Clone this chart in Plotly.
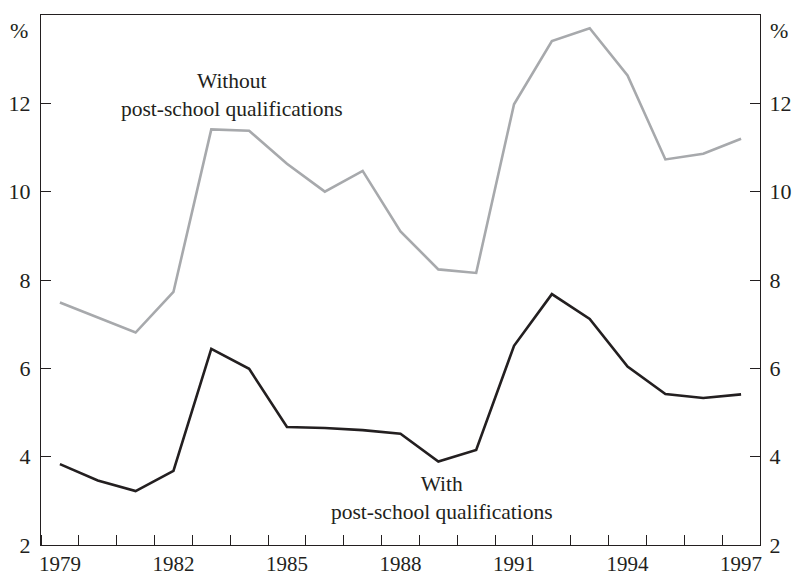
import plotly.graph_objects as go

years = list(range(1979, 1998))
without_quals = [7.49, 7.15, 6.81, 7.73, 11.41, 11.38, 10.63, 10.0, 10.47, 9.10,
                 8.24, 8.16, 11.98, 13.41, 13.70, 12.63, 10.73, 10.86, 11.20]
with_quals = [3.83, 3.46, 3.22, 3.68, 6.44, 5.99, 4.67, 4.65, 4.60, 4.52,
              3.89, 4.15, 6.51, 7.68, 7.12, 6.04, 5.42, 5.33, 5.41]
x_label_years = [1979, 1982, 1985, 1988, 1991, 1994, 1997]
x_labels = [str(y) for y in x_label_years]
y_ticks = [2, 4, 6, 8, 10, 12]
y_labels = [str(v) for v in y_ticks]
band_edges = [y - 0.5 for y in years] + [years[-1] + 0.5]

FONT = "Liberation Serif, Times New Roman, serif"
INK = "#231f20"
GREY = "#a7a9ac"
TICK_SIZE = 22
XTICK_SIZE = 21
NOTE_SIZE = 21.5

fig = go.Figure()
fig.add_trace(go.Scatter(x=years, y=without_quals, mode="lines",
                         line=dict(color=GREY, width=2.6), showlegend=False))
fig.add_trace(go.Scatter(x=years, y=with_quals, mode="lines",
                         line=dict(color=INK, width=2.6), showlegend=False))
# invisible trace to activate right axis
fig.add_trace(go.Scatter(x=years, y=with_quals, yaxis="y2", mode="lines",
                         line=dict(width=0), opacity=0, showlegend=False, hoverinfo="skip"))

fig.update_layout(
    width=793, height=576,
    margin=dict(l=41, r=33, t=15, b=31, autoexpand=False),
    paper_bgcolor="white", plot_bgcolor="white",
    font=dict(family=FONT, size=TICK_SIZE, color=INK),
    xaxis=dict(range=[1978.5, 1997.5], tickmode="array", tickvals=x_label_years,
               ticktext=x_labels, ticks="", showgrid=False, zeroline=False,
               showline=True, linecolor=INK, linewidth=1.3, mirror=True,
               automargin=False, ticklabelstandoff=0,
               tickfont=dict(family=FONT, size=XTICK_SIZE, color=INK),
               minor=dict(tickmode="array", tickvals=band_edges, ticks="inside",
                          ticklen=10, tickwidth=1.3, tickcolor=INK, showgrid=False)),
    yaxis=dict(range=[2, 14], tickmode="array", tickvals=y_ticks, ticktext=y_labels,
               ticks="inside", ticklen=10, tickwidth=1.3, tickcolor=INK,
               showgrid=False, zeroline=False, showline=True, linecolor=INK,
               linewidth=1.3, ticklabelstandoff=5, automargin=False,
               tickfont=dict(family=FONT, size=TICK_SIZE, color=INK)),
    yaxis2=dict(range=[2, 14], overlaying="y", side="right", tickmode="array",
                tickvals=y_ticks, ticktext=y_labels, ticks="inside", ticklen=10,
                tickwidth=1.3, tickcolor=INK, showgrid=False, zeroline=False,
                showline=True, linecolor=INK, linewidth=1.3, ticklabelstandoff=4,
                automargin=False,
                tickfont=dict(family=FONT, size=TICK_SIZE, color=INK)),
    annotations=[
        dict(text="%", xref="paper", yref="paper", x=0, y=1, xanchor="right",
             yanchor="top", xshift=-11, yshift=-1, showarrow=False,
             font=dict(family=FONT, size=TICK_SIZE, color=INK)),
        dict(text="%", xref="paper", yref="paper", x=1, y=1, xanchor="left",
             yanchor="top", xshift=8, yshift=-1, showarrow=False,
             font=dict(family=FONT, size=TICK_SIZE, color=INK)),
        dict(text="Without<br>post-school qualifications", x=1983.55, y=12.2,
             xref="x", yref="y", showarrow=False, align="center",
             font=dict(family=FONT, size=NOTE_SIZE, color=INK)),
        dict(text="With<br>post-school qualifications", x=1989.1, y=3.07,
             xref="x", yref="y", showarrow=False, align="center",
             font=dict(family=FONT, size=NOTE_SIZE, color=INK)),
    ],
)

fig.write_html("out.html", config={"displayModeBar": False},
               post_script="document.body.style.margin='0';document.body.style.overflow='hidden';")
